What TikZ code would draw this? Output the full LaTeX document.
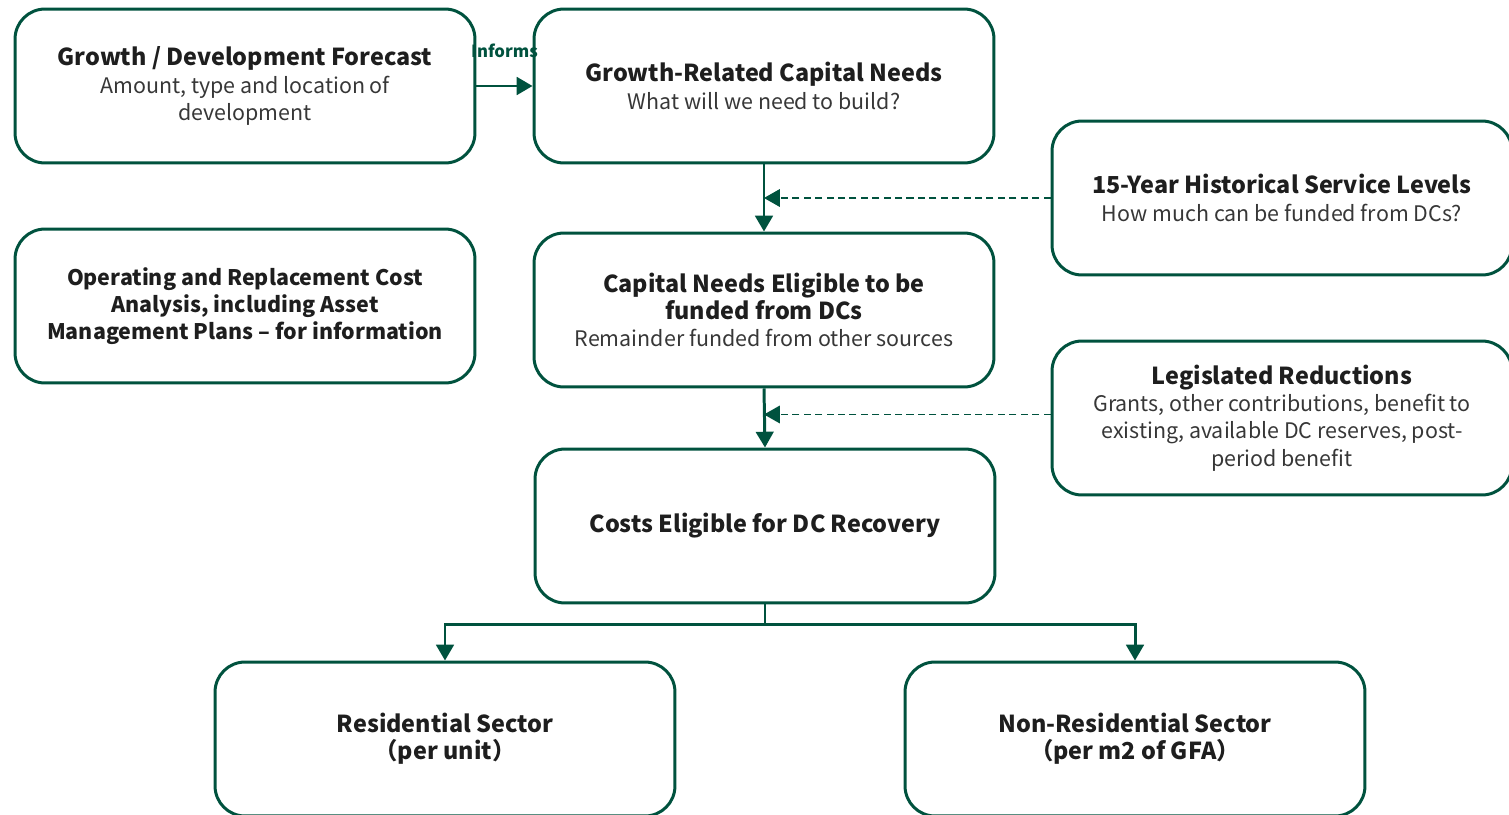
\documentclass[tikz,border=0pt]{standalone}
\usepackage{fontspec}
\setmainfont{Noto Sans CJK JP}
\usetikzlibrary{arrows.meta, positioning, calc}
\definecolor{dcgreen}{RGB}{0,82,62}
\definecolor{dctext}{RGB}{55,55,55}
\definecolor{dctitle}{RGB}{30,30,30}
\newcommand{\boxtitle}[1]{{\color{dctitle}\fontsize{13.3}{15.5}\selectfont\bfseries #1}}
\newcommand{\smalltitle}[1]{{\color{dctitle}\fontsize{12.2}{15.5}\selectfont\bfseries #1}}

\begin{document}
\begin{tikzpicture}[x=0.02cm, y=-0.02cm,
    box/.style={draw=dcgreen, line width=1.7pt, rounded corners=0.6cm,
      minimum width=9.2cm, minimum height=3.08cm, align=center,
      text=dctext, font=\fontsize{12.2}{15.5}\selectfont},
    arr/.style={draw=dcgreen, line width=1.7pt, -{Triangle[length=9pt,width=10pt]}},
    dasharr/.style={draw=dcgreen, line width=0.8pt, dash pattern=on 4pt off 2.5pt,
      -{Triangle[length=9pt,width=10pt]}}]
        \useasboundingbox (0,0) rectangle (1509,815);
        \clip (0,0) rectangle (1509,815);
        % Top row
        \node[box] (fc) at (245,86) {\boxtitle{Growth / Development Forecast}\\Amount, type and location of\\development};
        \node[box] (cap) at (764,86) {\boxtitle{Growth-Related Capital Needs}\\What will we need to build?};
        \node[box] (hist) at (1282,198) {\boxtitle{15-Year Historical Service Levels}\\How much can be funded from DCs?};
        % Middle rows
        \node[box] (opr) at (245,306) {\smalltitle{Operating and Replacement Cost}\\\smalltitle{Analysis, including Asset}\\\smalltitle{Management Plans – for information}};
        \node[box] (elig) at (764,310) {\boxtitle{Capital Needs Eligible to be}\\\boxtitle{funded from DCs}\\Remainder funded from other sources};
        \node[box] (leg) at (1282,418) {\boxtitle{Legislated Reductions}\\Grants, other contributions, benefit to\\existing, available DC reserves, post-\\period benefit};
        \node[box] (cost) at (765,526) {\boxtitle{Costs Eligible for DC Recovery}};
        % Sectors
        \node[box] (res) at (445,739) {\boxtitle{Residential Sector}\\\boxtitle{（per unit）}};
        \node[box] (nres) at (1135,739) {\boxtitle{Non-Residential Sector}\\\boxtitle{（per m2 of GFA）}};
        % Connectors
        \draw[arr] (fc.east) -- (cap.west) node[midway, above=12pt, text=dcgreen, font=\fontsize{9.5}{12}\selectfont\bfseries] (inf) {Informs};
        \draw[arr] (cap.south) -- (elig.north);
        \draw[arr] (elig.south) -- (cost.north);
        \draw[dasharr] (hist.west) -- (hist.west -| cap.south);
        \draw[dasharr] ([yshift=2pt]leg.west) -- ([yshift=2pt]leg.west -| elig.south);
        \coordinate (split) at ($(cost.south)+(0,20)$);
        \draw[arr] (cost.south) -- (split) -| (res.north);
        \draw[arr] (split) -| (nres.north);
      \end{tikzpicture}
\end{document}
